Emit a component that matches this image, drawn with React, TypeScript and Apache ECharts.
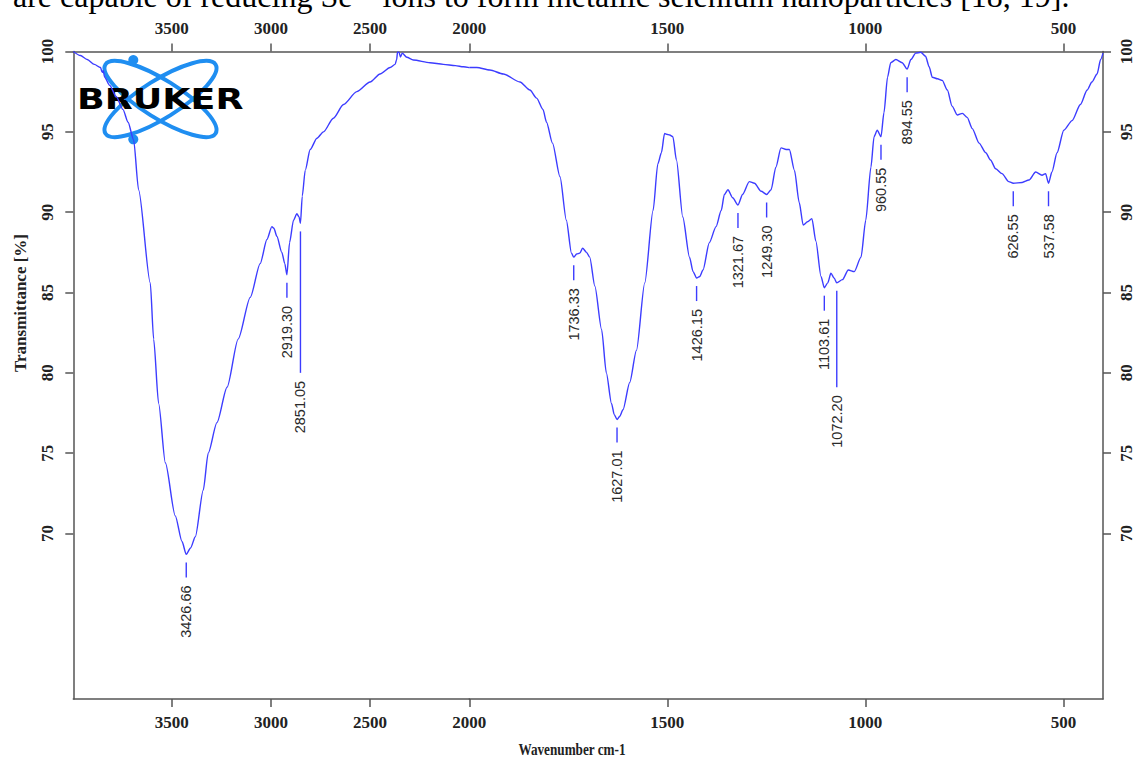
import React, { useEffect, useRef } from "react";
import * as echarts from "echarts";

// Spectrum (wavenumber in cm-1, transmittance in %)
const wavenumbers = [
  3996, 3960, 3926, 3890, 3859, 3850, 3845, 3838, 3813, 3780, 3746, 3720, 3692, 3667, 3608, 3591,
  3566, 3532, 3482, 3448, 3426.66, 3405, 3381, 3341, 3316, 3272, 3221, 3165, 3104, 3054, 3020, 2995,
  2985, 2970, 2945, 2930, 2919.3, 2906, 2886, 2869, 2858, 2851.05, 2842, 2827, 2802, 2768, 2735, 2685,
  2634, 2567, 2500, 2450, 2399, 2374, 2366, 2362, 2354, 2347, 2338, 2315, 2282, 2198, 2131, 2070,
  2030, 2000,
  1981, 1948, 1914, 1872, 1847, 1830, 1814, 1805, 1790, 1771, 1755, 1742, 1736.33, 1729, 1721, 1714,
  1704, 1696, 1683, 1666, 1654, 1641, 1634, 1627.01, 1620, 1612, 1595, 1578, 1557, 1536, 1524, 1515,
  1507, 1502, 1494, 1486, 1477, 1461, 1444, 1435, 1426.15, 1418, 1410, 1394, 1377, 1364, 1356, 1347,
  1335, 1321.67, 1310, 1293, 1280, 1263, 1249.3, 1238, 1226, 1213, 1200, 1192, 1179, 1167, 1157, 1146,
  1135, 1125, 1112, 1103.61, 1095, 1087, 1079, 1072.2, 1058, 1043, 1028, 1011, 999, 986, 978, 970,
  960.55, 953, 944, 936, 923, 907, 894.55, 885, 873, 860, 848, 839, 831, 818, 806, 793,
  781, 768, 755, 743, 730, 713, 696, 684, 671, 655, 638, 626.55, 604, 587, 570, 554,
  545, 537.58, 529, 516, 499, 478, 457, 440, 428, 415, 406, 400,
];
const transmittance = [
  100.0, 99.75, 99.5, 99.2, 99.0, 98.7, 98.8, 98.4, 97.9, 97.2, 96.4, 95.6, 94.5, 91.4, 85.6, 82.1,
  78.1, 74.4, 71.1, 69.5, 68.7, 69.1, 69.8, 72.7, 75.0, 76.9, 79.1, 82.1, 84.7, 86.8, 88.3, 89.1,
  89.0, 88.5, 87.5, 86.8, 86.1, 88.1, 89.5, 89.9, 89.7, 89.3, 91.0, 92.6, 93.9, 94.6, 95.0, 95.85,
  96.7, 97.5, 98.1, 98.6, 99.0, 99.2, 99.5, 99.95, 99.95, 99.65, 99.9, 99.64, 99.47, 99.3, 99.2, 99.12,
  99.05, 99.0,
  99.0, 98.85, 98.6, 98.1, 97.6, 97.1, 96.4, 95.6, 94.3, 92.2, 89.5, 87.45, 87.2, 87.4, 87.45, 87.76,
  87.5, 87.2, 85.4, 82.7, 80.0, 78.1, 77.4, 77.1, 77.3, 77.7, 79.4, 81.4, 85.6, 90.1, 93.0, 93.7,
  94.9, 94.85, 94.8, 94.7, 93.25, 89.7, 87.2, 86.3, 85.9, 86.0, 86.4, 88.1, 89.1, 90.1, 91.1, 91.4,
  90.9, 90.45, 91.1, 91.9, 91.8, 91.3, 91.1, 91.4, 92.8, 94.0, 93.9, 93.9, 92.6, 90.6, 89.2, 89.4,
  89.6, 88.2, 86.0, 85.3, 85.6, 86.2, 85.9, 85.6, 85.8, 86.4, 86.3, 87.2, 89.5, 92.8, 94.7, 95.1,
  94.7, 96.2, 98.4, 99.3, 99.5, 99.3, 98.9, 99.5, 99.9, 99.95, 99.7, 99.05, 98.4, 98.3, 98.2, 97.6,
  96.6, 96.05, 96.15, 95.9, 95.2, 94.3, 93.7, 93.25, 92.7, 92.4, 91.9, 91.8, 91.85, 92.0, 92.5, 92.3,
  92.4, 91.8, 92.5, 93.7, 95.1, 95.7, 96.7, 97.6, 98.1, 98.6, 99.5, 99.9,
];

// Labelled peaks
const peakWavenumbers = [
  3426.66, 2919.3, 2851.05, 1736.33, 1627.01, 1426.15, 1321.67, 1249.3, 1103.61, 1072.2, 960.55,
  894.55, 626.55, 537.58,
];
// Transmittance where an extended leader line ends (null = short dash)
const peakLeaderEnd = [null, null, 80.0, null, null, null, null, null, null, 79.1, null, null, null, null];

// Axis ticks
const xTicksHigh = [3500, 3000, 2500];
const xTicksLow = [2000, 1500, 1000, 500];
const yTicks = [70, 75, 80, 85, 90, 95, 100];
const X_HIGH_RANGE = [2000, 3996];
const X_LOW_RANGE = [400, 2000];
const Y_RANGE = [59.7, 100];

const LINE_COLOR = "#3c3cff";
const AXIS_COLOR = "#555";

export default function App() {
  const ref = useRef<HTMLDivElement>(null);

  useEffect(() => {
    if (!ref.current) return;
    const chart = echarts.init(ref.current, null, { renderer: "svg" });

    const points = wavenumbers.map((w, i) => [w, transmittance[i]]);
    const highData = points.filter((p) => p[0] >= 2000);
    const lowData = points.filter((p) => p[0] <= 2000);

    const peaks = peakWavenumbers.map((w, i) => {
      const idx = wavenumbers.indexOf(w);
      const end = peakLeaderEnd[i];
      return { w, t: transmittance[idx], end: end == null ? -1 : end };
    });
    const peaksHigh = peaks.filter((p) => p.w >= 2000);
    const peaksLow = peaks.filter((p) => p.w < 2000);

    const makeRender = (list: { w: number; t: number; end: number }[]) =>
      (params: any, api: any) => {
        const pk = list[params.dataIndex];
        const p = api.coord([pk.w, pk.t]);
        const y0 = p[1] + 8;
        const y1 = pk.end < 0 ? p[1] + 23 : api.coord([pk.w, pk.end])[1];
        return {
          type: "group",
          children: [
            {
              type: "line",
              shape: { x1: p[0], y1: y0, x2: p[0], y2: y1 },
              style: { stroke: LINE_COLOR, lineWidth: 1.4 },
            },
            {
              type: "text",
              x: p[0],
              y: y1 + 8,
              rotation: Math.PI / 2,
              style: {
                text: pk.w.toFixed(2),
                align: "right",
                verticalAlign: "middle",
                textAlign: "right",
                textVerticalAlign: "middle",
                fontFamily: "Liberation Sans",
                fontSize: 14.5,
                fill: "#2a2a2a",
              },
            },
          ],
        };
      };

    const labelStyle = {
      fontFamily: "Liberation Serif",
      fontWeight: "bold" as const,
      fontSize: 17,
      color: "#222",
      formatter: (v: number) => String(v),
    };
    const lineStyle = { color: AXIS_COLOR, width: 1.5 };

    const makeX = (grid: number, range: number[], ticks: number[], position: string) => ({
      type: "value",
      gridIndex: grid,
      min: range[0],
      max: range[1],
      inverse: true,
      position,
      axisLine: { show: true, onZero: false, lineStyle },
      axisTick: { show: true, customValues: ticks, length: 8, lineStyle },
      axisLabel: {
        show: true,
        customValues: ticks,
        margin: 15,
        showMinLabel: true,
        showMaxLabel: true,
        ...labelStyle,
      },
      splitLine: { show: false },
    });

    const makeY = (grid: number, position: string, margin: number) => ({
      type: "value",
      gridIndex: grid,
      min: Y_RANGE[0],
      max: Y_RANGE[1],
      position,
      axisLine: { show: true, onZero: false, lineStyle },
      axisTick: { show: true, customValues: yTicks, length: 8, lineStyle },
      axisLabel: {
        show: true,
        customValues: yTicks,
        rotate: 90,
        margin,
        ...labelStyle,
      },
      splitLine: { show: false },
    });

    const ellipseStyle = { fill: "none", stroke: "#1f8ef1", lineWidth: 4 };
    const lineSeriesBase = {
      type: "line",
      symbol: "none",
      showSymbol: false,
      silent: true,
      smooth: 0.25,
      smoothMonotone: "x",
      z: 5,
      lineStyle: { color: LINE_COLOR, width: 1.4 },
    };

    chart.setOption({
      animation: false,
      backgroundColor: "#ffffff",
      grid: [
        { left: 73.3, top: 51.5, width: 396, height: 647.5, show: false },
        { left: 469.3, top: 51.5, width: 635, height: 647.5, show: false },
      ],
      xAxis: [
        makeX(0, X_HIGH_RANGE, xTicksHigh, "bottom"),
        makeX(0, X_HIGH_RANGE, xTicksHigh, "top"),
        makeX(1, X_LOW_RANGE, xTicksLow, "bottom"),
        makeX(1, X_LOW_RANGE, xTicksLow, "top"),
      ],
      yAxis: [makeY(0, "left", 17), makeY(1, "right", 15)],
      graphic: [
        {
          type: "text",
          left: 13,
          top: -20,
          style: {
            text: "are capable of reducing Se\u2074\u207A ions to form metallic selenium nanoparticles [18, 19].",
            fontFamily: "Liberation Serif",
            fontSize: 32,
            fill: "#000",
          },
          z: 0,
        },
        {
          type: "ellipse",
          x: 160.5,
          y: 99,
          rotation: 0.56,
          shape: { cx: 0, cy: 0, rx: 65, ry: 19 },
          style: ellipseStyle,
          z: 0,
        },
        {
          type: "ellipse",
          x: 160.5,
          y: 99,
          rotation: -0.56,
          shape: { cx: 0, cy: 0, rx: 65, ry: 19 },
          style: ellipseStyle,
          z: 0,
        },
        {
          type: "circle",
          shape: { cx: 133.3, cy: 60, r: 5 },
          style: { fill: "#1f8ef1" },
          z: 0,
        },
        {
          type: "circle",
          shape: { cx: 133.3, cy: 139.3, r: 5 },
          style: { fill: "#1f8ef1" },
          z: 0,
        },
        {
          type: "text",
          x: 77,
          y: 100,
          scaleX: 1.3,
          style: {
            text: "BRUKER",
            fontFamily: "DejaVu Sans",
            fontWeight: "bold",
            fontSize: 28,
            fill: "#000",
            align: "left",
            verticalAlign: "middle",
            textAlign: "left",
            textVerticalAlign: "middle",
          },
          z: 0,
        },
        {
          type: "text",
          x: 572,
          y: 749,
          scaleX: 0.8,
          style: {
            text: "Wavenumber cm-1",
            fontFamily: "Liberation Serif",
            fontWeight: "bold",
            fontSize: 16.5,
            fill: "#222",
            align: "center",
            verticalAlign: "middle",
            textAlign: "center",
            textVerticalAlign: "middle",
          },
        },
        {
          type: "text",
          x: 20,
          y: 303,
          rotation: Math.PI / 2,
          style: {
            text: "Transmittance [%]",
            fontFamily: "Liberation Serif",
            fontWeight: "bold",
            fontSize: 17,
            fill: "#222",
            align: "center",
            verticalAlign: "middle",
            textAlign: "center",
            textVerticalAlign: "middle",
          },
        },
      ],
      series: [
        { ...lineSeriesBase, xAxisIndex: 0, yAxisIndex: 0, data: highData },
        { ...lineSeriesBase, xAxisIndex: 2, yAxisIndex: 1, data: lowData },
        {
          type: "custom",
          xAxisIndex: 0,
          yAxisIndex: 0,
          data: peaksHigh.map((p) => [p.w, p.t, p.end]),
          encode: { x: 0, y: 1 },
          renderItem: makeRender(peaksHigh),
          silent: true,
          clip: false,
          z: 6,
        },
        {
          type: "custom",
          xAxisIndex: 2,
          yAxisIndex: 1,
          data: peaksLow.map((p) => [p.w, p.t, p.end]),
          encode: { x: 0, y: 1 },
          renderItem: makeRender(peaksLow),
          silent: true,
          clip: false,
          z: 6,
        },
      ],
    });

    return () => chart.dispose();
  }, []);

  return (
    <div
      ref={ref}
      style={{ position: "absolute", left: 0, top: 0, width: 1135, height: 758, background: "#fff" }}
    />
  );
}
